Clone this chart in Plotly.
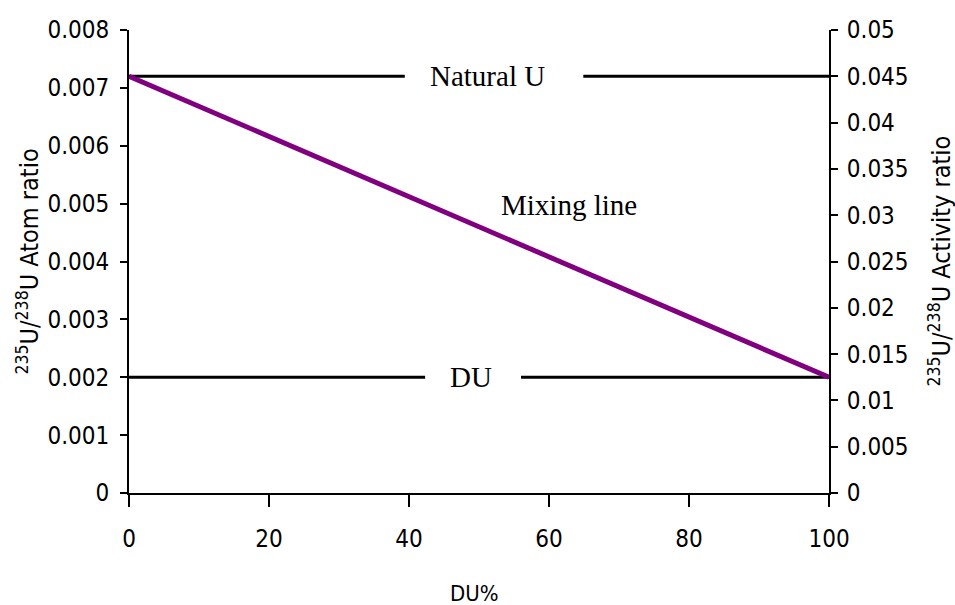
import plotly.graph_objects as go

# ---- data ----
du_pct = [0, 100]
mixing_ratio = [0.0072, 0.002]
natural_u_level = 0.0072
du_level = 0.002
natural_u_x = [0, 39.4, None, 64.9, 100]
du_line_x = [0, 42.3, None, 56.0, 100]
x_ticks = [0, 20, 40, 60, 80, 100]
left_ticks = [0, 0.001, 0.002, 0.003, 0.004, 0.005, 0.006, 0.007, 0.008]
left_labels = ["0", "0.001", "0.002", "0.003", "0.004", "0.005", "0.006", "0.007", "0.008"]
right_ticks = [0, 0.005, 0.01, 0.015, 0.02, 0.025, 0.03, 0.035, 0.04, 0.045, 0.05]
right_labels = ["0", "0.005", "0.01", "0.015", "0.02", "0.025", "0.03", "0.035", "0.04", "0.045", "0.05"]

tick_font = dict(family="'DejaVu Sans Condensed', 'Liberation Sans Narrow', 'Liberation Sans', sans-serif",
                 size=24, color="black")
serif = dict(family="Liberation Serif, Times New Roman, serif", size=29, color="black")

fig = go.Figure()
fig.add_trace(go.Scatter(x=natural_u_x, y=[natural_u_level if v is not None else None for v in natural_u_x],
                         mode="lines", line=dict(color="black", width=3), hoverinfo="skip",
                         connectgaps=False, showlegend=False))
fig.add_trace(go.Scatter(x=du_line_x, y=[du_level if v is not None else None for v in du_line_x],
                         mode="lines", line=dict(color="black", width=3), hoverinfo="skip",
                         connectgaps=False, showlegend=False))
fig.add_trace(go.Scatter(x=du_pct, y=mixing_ratio, mode="lines",
                         line=dict(color="#800080", width=5), showlegend=False))
# invisible trace for the right axis
fig.add_trace(go.Scatter(x=[None], y=[None], yaxis="y2", showlegend=False))

fig.update_layout(
    width=955, height=605,
    margin=dict(l=129, r=126, t=30, b=112),
    paper_bgcolor="white", plot_bgcolor="white",
    xaxis=dict(range=[0, 100], tickvals=x_ticks, ticktext=[str(v) for v in x_ticks],
               showgrid=False, zeroline=False, showline=True, linecolor="black", linewidth=2,
               ticks="outside", ticklen=12, tickwidth=2, tickcolor="black",
               tickfont=tick_font, ticklabelstandoff=11),
    yaxis=dict(range=[0, 0.008], tickvals=left_ticks, ticktext=left_labels,
               showgrid=False, zeroline=False, showline=True, linecolor="black", linewidth=2,
               ticks="outside", ticklen=7, tickwidth=2, tickcolor="black",
               tickfont=tick_font, ticklabelstandoff=6),
    yaxis2=dict(range=[0, 0.05], tickvals=right_ticks, ticktext=right_labels,
                overlaying="y", side="right",
                showgrid=False, zeroline=False, showline=True, linecolor="black", linewidth=2,
                ticks="outside", ticklen=7, tickwidth=2, tickcolor="black",
                tickfont=tick_font, ticklabelstandoff=4),
    annotations=[
        dict(text="Natural U", x=51.2, y=natural_u_level, xref="x", yref="y",
             showarrow=False, font=serif, xanchor="center", yanchor="middle"),
        dict(text="DU", x=48.9, y=du_level, xref="x", yref="y",
             showarrow=False, font=serif, xanchor="center", yanchor="middle"),
        dict(text="Mixing line", x=62.8, y=0.00497, xref="x", yref="y",
             showarrow=False, font=serif, xanchor="center", yanchor="middle"),
        dict(text="DU%", x=49.3, y=0, xref="x", yref="paper", yshift=-100,
             showarrow=False, font=dict(tick_font, size=22), xanchor="center", yanchor="middle"),
        dict(text="<sup>235</sup>U/<sup>238</sup>U Atom ratio", x=0, y=0.5, xref="paper", yref="paper",
             xshift=-101, textangle=-90, showarrow=False, font=dict(tick_font, size=25),
             xanchor="center", yanchor="middle"),
        dict(text="<sup>235</sup>U/<sup>238</sup>U Activity ratio", x=1, y=0.5, xref="paper", yref="paper",
             xshift=111, textangle=-90, showarrow=False, font=dict(tick_font, size=25),
             xanchor="center", yanchor="middle"),
    ],
)

fig.write_html("out.html")
